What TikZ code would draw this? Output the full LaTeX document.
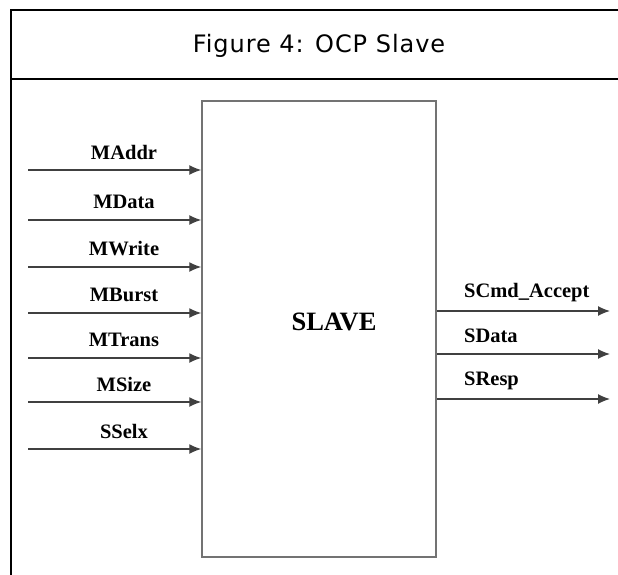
\documentclass[tikz,border=0pt]{standalone}
\usepackage{fontspec}
\setmainfont{Liberation Serif}
\newfontfamily\titlefont[LetterSpace=4]{DejaVu Sans}
\usetikzlibrary{arrows.meta}

\begin{document}
\begin{tikzpicture}[x=1pt,y=-1pt,
  sig/.style={draw=black!75, line width=1.3pt, -{Latex[length=12pt,width=10pt]}},
  siglabel/.style={font=\bfseries\fontsize{20.5}{22}\selectfont, inner sep=0pt}]
\useasboundingbox (0,0) rectangle (618,575);
% frame
\draw[line width=1.5pt] (11,575) -- (11,10) -- (618,10);
\draw[line width=2.2pt] (11,79) -- (618,79);
\node[font=\titlefont\fontsize{24}{28}\selectfont] (title) at (319,46) {Figure 4: OCP Slave};
% slave block
\node[draw=black!55, line width=1.5pt, minimum width=234pt, minimum height=456pt, inner sep=0pt] (slave) at (319,329) {};
\node[font=\bfseries\fontsize{26.5}{28}\selectfont, inner sep=0pt] (name) at (334,322) {SLAVE};
% inputs
\foreach \name/\y [count=\i] in {MAddr/170, MData/220, MWrite/267, MBurst/313, MTrans/358, MSize/402, SSelx/449} {
  \coordinate (in\i) at (28,\y);
  \draw[sig] (in\i) -- (in\i -| slave.west);
  \node[siglabel] (lin\i) at (124,\y-18) {\name};
}
% outputs
\foreach \name/\y [count=\i] in {SCmd\_Accept/311, SData/354, SResp/399} {
  \coordinate (out\i) at (610,\y);
  \draw[sig] (out\i -| slave.east) -- (out\i);
  \node[siglabel, anchor=west] (lout\i) at (464,\y-18) {\name};
}
\end{tikzpicture}
\end{document}
